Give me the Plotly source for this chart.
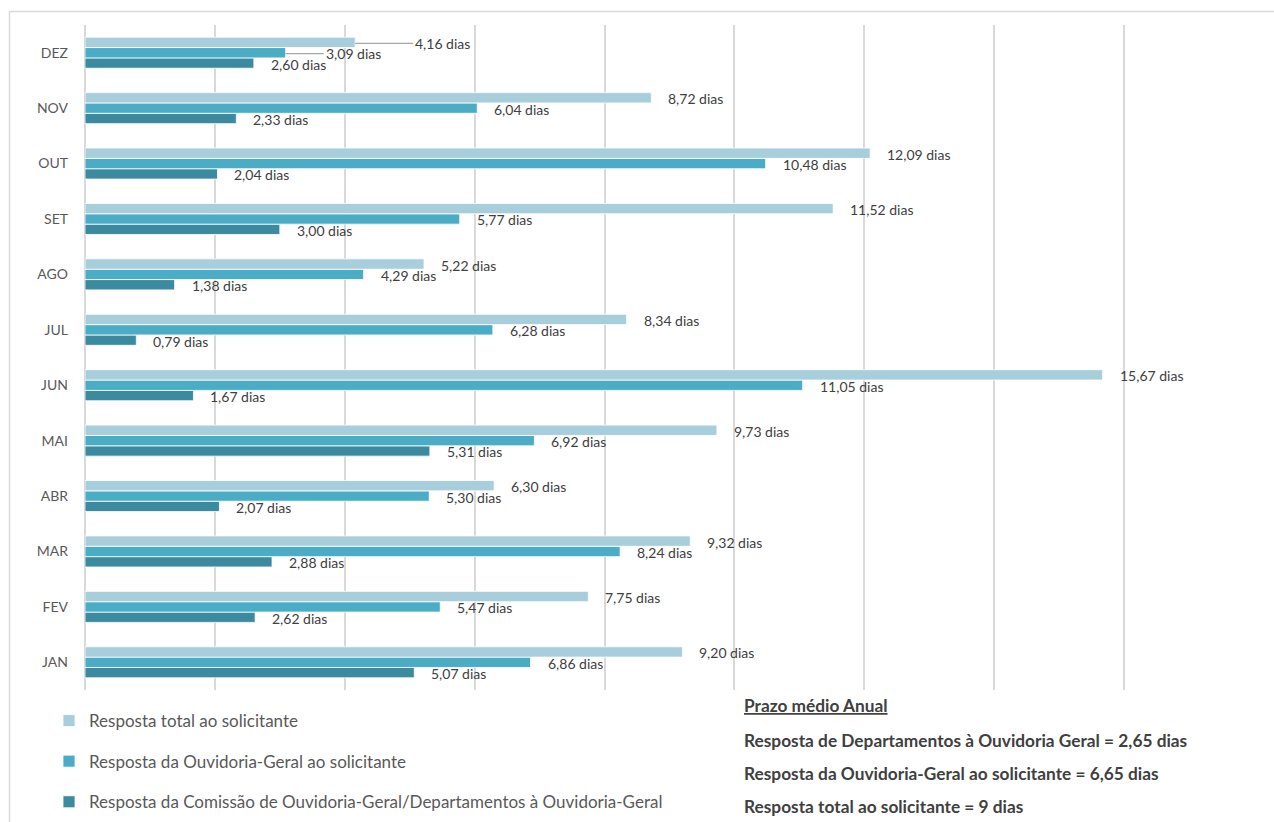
import plotly.graph_objects as go

# Months from bottom to top (JAN at the bottom, DEZ at the top)
meses = ["JAN", "FEV", "MAR", "ABR", "MAI", "JUN", "JUL", "AGO", "SET", "OUT", "NOV", "DEZ"]

# Average response time in days per month
resposta_total = [9.20, 7.75, 9.32, 6.30, 9.73, 15.67, 8.34, 5.22, 11.52, 12.09, 8.72, 4.16]
resposta_ouvidoria = [6.86, 5.47, 8.24, 5.30, 6.92, 11.05, 6.28, 4.29, 5.77, 10.48, 6.04, 3.09]
resposta_comissao = [5.07, 2.62, 2.88, 2.07, 5.31, 1.67, 0.79, 1.38, 3.00, 2.04, 2.33, 2.60]

nome_total = "Resposta total ao solicitante"
nome_ouvidoria = "Resposta da Ouvidoria-Geral ao solicitante"
nome_comissao = "Resposta da Comissão de Ouvidoria-Geral/Departamentos à Ouvidoria-Geral"

cor_total = "#A8CEDC"
cor_ouvidoria = "#4AACC5"
cor_comissao = "#3C8AA0"

resumo_titulo = "Prazo médio Anual"
resumo_linhas = [
    "Resposta de Departamentos à Ouvidoria Geral = 2,65 dias",
    "Resposta da Ouvidoria-Geral ao solicitante = 6,65 dias",
    "Resposta total ao solicitante = 9 dias",
]

FONTE = "Lato, 'Open Sans', sans-serif"
W, H = 1274, 822
M_L, M_R, M_T, M_B = 85, 20, 25, 132
X_MAX = 18
plot_w = W - M_L - M_R
plot_h = H - M_T - M_B
bar_px = plot_h / len(meses) * (1 - 0.44) / 3


def fmt(v):
    return f"{v:.2f}".replace(".", ",") + " dias"


fig = go.Figure()
# Bottom-to-top order inside each group: comissão, ouvidoria, total
series = [
    (nome_comissao, resposta_comissao, cor_comissao, -1, 3),
    (nome_ouvidoria, resposta_ouvidoria, cor_ouvidoria, 0, 2),
    (nome_total, resposta_total, cor_total, 1, 1),
]
for nome, valores, cor, _, rank in series:
    fig.add_trace(go.Bar(
        y=meses, x=valores, orientation="h", name=nome,
        legendgroup=nome, legendrank=rank,
        marker=dict(color=cor, line=dict(color="white", width=0.8)),
        hoverinfo="x+name",
    ))

# Value labels to the right of each bar; the crowded December labels sit further out with leader lines
deslocamento_extra = {(nome_total, "DEZ"): 58, (nome_ouvidoria, "DEZ"): 38}
annotations = []
for nome, valores, cor, pos, _ in series:
    for mes, v in zip(meses, valores):
        extra = deslocamento_extra.get((nome, mes))
        base = dict(
            x=v, y=mes, xref="x", yref="y", text=fmt(v),
            font=dict(family=FONTE, size=14, color="#404040"),
            xanchor="left", yanchor="middle",
        )
        if extra:
            annotations.append(dict(
                base, showarrow=True, arrowhead=0, arrowwidth=1.3,
                arrowcolor="#A6A6A6", ax=extra, ay=0, axref="pixel",
                standoff=0, yshift=pos * bar_px - 1,
            ))
        else:
            annotations.append(dict(
                base, showarrow=False, xshift=15, yshift=pos * bar_px - 1,
            ))

# Annual summary block
x_resumo = (742 - M_L) / plot_w
annotations.append(dict(
    x=x_resumo, y=-(705 - (H - M_B)) / plot_h, xref="paper", yref="paper",
    text=f"<b><u>{resumo_titulo}</u></b>", showarrow=False,
    xanchor="left", yanchor="middle",
    font=dict(family=FONTE, size=17.3, color="#404040"),
))
for i, linha in enumerate(resumo_linhas):
    y_px = 740 + i * 33
    annotations.append(dict(
        x=x_resumo, y=-(y_px - (H - M_B)) / plot_h, xref="paper", yref="paper",
        text=f"<b>{linha}</b>", showarrow=False,
        xanchor="left", yanchor="middle",
        font=dict(family=FONTE, size=17.3, color="#404040"),
    ))

# Frame: only the left and top edges fall inside the canvas
fx0 = -(M_L - 9.5) / plot_w
fy1 = 1 + (M_T - 11.5) / plot_h
moldura = f"M {fx0},-1 L {fx0},{fy1} L 1.2,{fy1}"

fig.update_layout(
    width=W, height=H,
    margin=dict(l=M_L, r=M_R, t=M_T, b=M_B, autoexpand=False),
    paper_bgcolor="white", plot_bgcolor="white",
    barmode="group", bargap=0.44, bargroupgap=0,
    font=dict(family=FONTE, color="#595959"),
    xaxis=dict(
        range=[0, X_MAX], dtick=2, showticklabels=False,
        showgrid=True, gridcolor="#D9D9D9", gridwidth=1.5,
        zeroline=True, zerolinecolor="#D9D9D9", zerolinewidth=1.5,
        showline=False, fixedrange=True,
    ),
    yaxis=dict(
        categoryorder="array", categoryarray=meses,
        showgrid=False, showline=False, ticks="",
        ticklabelstandoff=16,
        tickfont=dict(family=FONTE, size=14, color="#595959"),
        fixedrange=True,
    ),
    legend=dict(
        orientation="v", traceorder="grouped", tracegroupgap=15.5,
        xref="container", yref="container",
        x=49 / W, xanchor="left",
        y=1 - 703 / H, yanchor="top",
        font=dict(family=FONTE, size=17, color="#595959"),
        itemwidth=30, bgcolor="rgba(0,0,0,0)",
    ),
    annotations=annotations,
    shapes=[dict(
        type="path", xref="paper", yref="paper", path=moldura,
        line=dict(color="#D9D9D9", width=1.5), layer="below",
    )],
)

fig.write_html("out.html")
